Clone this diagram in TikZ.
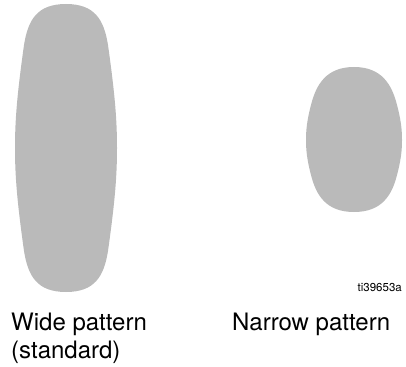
\documentclass[tikz,border=0pt]{standalone}
\usepackage{fontspec}
\setmainfont{TeX Gyre Heros}
\begin{document}
\begin{tikzpicture}[x=1pt,y=-1pt,
  blob/.style={fill=black!27,draw=none},
  caption/.style={font=\fontsize{24}{28}\selectfont,inner sep=0pt},
  tag/.style={font=\fontsize{11.5}{13}\selectfont,inner sep=0pt}]
\useasboundingbox (0,0) rectangle (406,366);
% wide pattern
\path[blob] (66,4) .. controls (95,4) and (104,20) .. (108,45)
  .. controls (115,95) and (117,120) .. (117,148)
  .. controls (117,176) and (115,201) .. (108,251)
  .. controls (104,276) and (95,292) .. (66,292)
  .. controls (37,292) and (28,276) .. (24,251)
  .. controls (17,201) and (15,176) .. (15,148)
  .. controls (15,120) and (17,95) .. (24,45)
  .. controls (28,20) and (37,4) .. (66,4) -- cycle;
% narrow pattern
\path[blob] (354,67) .. controls (382,67) and (392,85) .. (397,105)
  .. controls (401,120) and (402,130) .. (402,140)
  .. controls (402,150) and (401,160) .. (397,175)
  .. controls (392,195) and (382,212) .. (354,212)
  .. controls (326,212) and (316,195) .. (311,175)
  .. controls (307,160) and (306,150) .. (306,140)
  .. controls (306,130) and (307,120) .. (311,105)
  .. controls (316,85) and (326,67) .. (354,67) -- cycle;
\node[tag,anchor=base east] (id) at (402,291) {ti39653a};
\node[caption,anchor=base west] (wide) at (11,330) {Wide pattern};
\node[caption,anchor=base west] (wide2) at (11,358) {(standard)};
\node[caption,anchor=base west] (narrow) at (232,330) {Narrow pattern};
\end{tikzpicture}
\end{document}
